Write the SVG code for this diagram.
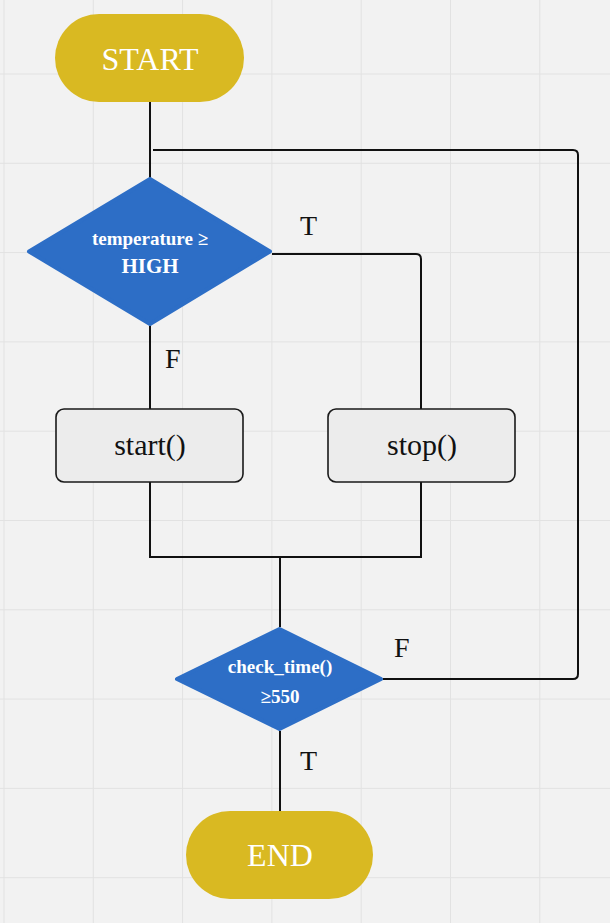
<svg xmlns="http://www.w3.org/2000/svg" width="610" height="923" viewBox="0 0 610 923">
<defs>
<style>
.grid{stroke:#e2e2e2;stroke-width:1}
.term{fill:#d9b922}
.dec{fill:#2d6ec6;stroke:#2d6ec6;stroke-width:4;stroke-linejoin:round}
.proc{fill:#ececec;stroke:#1a1a1a;stroke-width:1.6}
.conn{fill:none;stroke:#111;stroke-width:2}
.tt{font-family:"Liberation Serif","Times New Roman",serif;fill:#fff;text-anchor:middle}
.pt{font-family:"Liberation Serif","Times New Roman",serif;fill:#111;text-anchor:middle;font-size:30px}
.dt{font-family:"Liberation Serif","Times New Roman",serif;fill:#fff;text-anchor:middle;font-weight:bold}
.lbl{font-family:"Liberation Serif","Times New Roman",serif;fill:#111;font-size:28px}
</style>
</defs>
<rect width="610" height="923" fill="#f2f2f2"/>
<g id="grid">
<path class="grid" d="M4,0V923M93.3,0V923M182.6,0V923M271.9,0V923M361.2,0V923M450.5,0V923M539.8,0V923M0,74H610M0,163.3H610M0,252.6H610M0,341.9H610M0,431.2H610M0,520.5H610M0,609.8H610M0,699.1H610M0,788.4H610M0,877.7H610"/>
</g>
<g id="connectors">
<path class="conn" d="M150,102V178"/>
<path class="conn" d="M153,150H573Q578,150 578,155V674Q578,679 573,679H383"/>
<path class="conn" d="M272,254H416Q421,254 421,259V409"/>
<path class="conn" d="M150,326V409"/>
<path class="conn" d="M150,482V557H421V482"/>
<path class="conn" d="M280,557V627"/>
<path class="conn" d="M280,731V811"/>
</g>
<g id="labels">
<text class="lbl" x="300" y="235">T</text>
<text class="lbl" x="165" y="368">F</text>
<text class="lbl" x="394" y="657">F</text>
<text class="lbl" x="300" y="770">T</text>
</g>
<g id="start">
<rect class="term" x="55" y="14" width="189" height="88" rx="44"/>
<text class="tt" x="150" y="70" font-size="32">START</text>
</g>
<g id="decision1">
<polygon class="dec" points="150,179 270,251.5 150,324 29,251.5"/>
<text class="dt" x="150" y="245" font-size="19">temperature ≥</text>
<text class="dt" x="150" y="273" font-size="21">HIGH</text>
</g>
<g id="start_proc">
<rect class="proc" x="56" y="409" width="187" height="73" rx="8"/>
<text class="pt" x="150" y="455">start()</text>
</g>
<g id="stop_proc">
<rect class="proc" x="328" y="409" width="187" height="73" rx="8"/>
<text class="pt" x="422" y="455">stop()</text>
</g>
<g id="decision2">
<polygon class="dec" points="279.5,629 381,679 279.5,729 177,679"/>
<text class="dt" x="280" y="673" font-size="19">check_time()</text>
<text class="dt" x="280" y="703" font-size="19">≥550</text>
</g>
<g id="end">
<rect class="term" x="186" y="811" width="187" height="88" rx="44"/>
<text class="tt" x="280" y="866" font-size="32">END</text>
</g>
</svg>
